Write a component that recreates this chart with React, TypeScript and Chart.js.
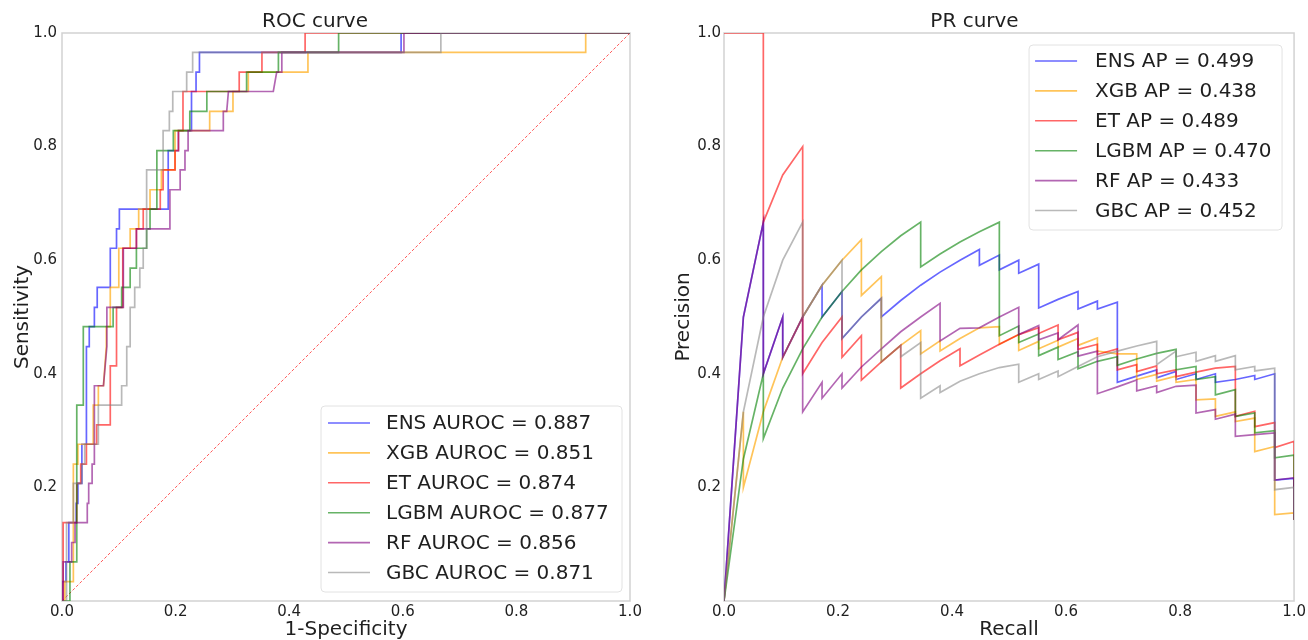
import React, { useEffect, useRef } from 'react';
import { Chart, registerables } from 'chart.js';

Chart.register(...registerables);

const FONT = 'DejaVu Sans';
const TEXT = '#1f1f1f';

const MODELS = ['ENS', 'XGB', 'ET', 'LGBM', 'RF', 'GBC'];
const AUROC = ['0.887', '0.851', '0.874', '0.877', '0.856', '0.871'];
const AP = ['0.499', '0.438', '0.489', '0.470', '0.433', '0.452'];
const COLORS = [
  'rgba(0,0,255,0.6)',
  'rgba(255,165,0,0.65)',
  'rgba(255,0,0,0.6)',
  'rgba(0,128,0,0.6)',
  'rgba(128,0,128,0.6)',
  'rgba(128,128,128,0.55)',
];
const TICK_STEP = 0.2;
const DIAGONAL: [number, number][] = [[0, 0], [1, 1]];

// ROC curves: [1-specificity, sensitivity]
const ENS_ROC: [number, number][] = [
  [0, 0], [0, 0.034], [0.007, 0.034], [0.007, 0.069], [0.012, 0.069], [0.012, 0.138], [0.025, 0.138],
  [0.025, 0.172], [0.028, 0.172], [0.028, 0.207], [0.035, 0.207], [0.035, 0.276], [0.043, 0.276],
  [0.043, 0.448], [0.048, 0.448], [0.048, 0.483], [0.057, 0.483], [0.057, 0.517], [0.062, 0.517],
  [0.062, 0.552], [0.085, 0.552], [0.085, 0.621], [0.096, 0.621], [0.096, 0.655], [0.101, 0.655],
  [0.101, 0.69], [0.187, 0.69], [0.187, 0.793], [0.205, 0.793], [0.205, 0.828], [0.228, 0.828],
  [0.228, 0.897], [0.236, 0.897], [0.236, 0.931], [0.242, 0.931], [0.242, 0.966], [0.597, 0.966],
  [0.597, 1], [1, 1],
];
const XGB_ROC: [number, number][] = [
  [0, 0], [0.005, 0], [0.005, 0.034], [0.02, 0.034], [0.02, 0.241], [0.028, 0.241], [0.028, 0.276],
  [0.055, 0.276], [0.055, 0.345], [0.064, 0.345], [0.064, 0.379], [0.073, 0.379], [0.078, 0.448],
  [0.078, 0.483], [0.085, 0.483], [0.085, 0.552], [0.1, 0.552], [0.1, 0.621], [0.12, 0.621],
  [0.12, 0.655], [0.135, 0.655], [0.135, 0.69], [0.155, 0.69], [0.155, 0.724], [0.175, 0.724],
  [0.175, 0.759], [0.199, 0.759], [0.199, 0.828], [0.26, 0.828], [0.26, 0.862], [0.301, 0.862],
  [0.301, 0.897], [0.328, 0.897], [0.328, 0.931], [0.433, 0.931], [0.433, 0.966], [0.922, 0.966],
  [0.922, 1], [1, 1],
];
const ET_ROC: [number, number][] = [
  [0, 0], [0.002, 0], [0.002, 0.138], [0.026, 0.138], [0.026, 0.207], [0.033, 0.207], [0.033, 0.241],
  [0.043, 0.241], [0.043, 0.276], [0.061, 0.276], [0.061, 0.31], [0.085, 0.31], [0.085, 0.414],
  [0.096, 0.414], [0.096, 0.517], [0.107, 0.517], [0.107, 0.621], [0.131, 0.621], [0.131, 0.655],
  [0.143, 0.655], [0.143, 0.69], [0.173, 0.69], [0.173, 0.724], [0.178, 0.724], [0.178, 0.759],
  [0.199, 0.759], [0.199, 0.793], [0.205, 0.793], [0.205, 0.828], [0.213, 0.828], [0.213, 0.897],
  [0.312, 0.897], [0.312, 0.931], [0.352, 0.931], [0.352, 0.966], [0.428, 0.966], [0.428, 1], [1, 1],
];
const LGBM_ROC: [number, number][] = [
  [0, 0], [0.014, 0], [0.014, 0.069], [0.026, 0.069], [0.026, 0.345], [0.0375, 0.345], [0.0375, 0.483],
  [0.09, 0.483], [0.09, 0.517], [0.105, 0.517], [0.105, 0.552], [0.12, 0.552], [0.12, 0.586],
  [0.131, 0.586], [0.131, 0.621], [0.149, 0.621], [0.149, 0.655], [0.155, 0.655], [0.155, 0.69],
  [0.167, 0.69], [0.167, 0.793], [0.196, 0.793], [0.196, 0.828], [0.225, 0.828], [0.225, 0.862],
  [0.255, 0.862], [0.255, 0.897], [0.325, 0.897], [0.325, 0.931], [0.381, 0.931], [0.381, 0.966],
  [0.487, 0.966], [0.487, 1], [1, 1],
];
const RF_ROC: [number, number][] = [
  [0, 0], [0.002, 0], [0.002, 0.069], [0.017, 0.069], [0.017, 0.103], [0.023, 0.103], [0.023, 0.138],
  [0.0445, 0.138], [0.0445, 0.172], [0.047, 0.172], [0.047, 0.207], [0.053, 0.207], [0.053, 0.241],
  [0.057, 0.241], [0.057, 0.379], [0.073, 0.379], [0.079, 0.448], [0.079, 0.517], [0.108, 0.517],
  [0.108, 0.621], [0.131, 0.621], [0.131, 0.655], [0.19, 0.655], [0.19, 0.724], [0.208, 0.724],
  [0.208, 0.759], [0.2165, 0.759], [0.2165, 0.793], [0.222, 0.793], [0.222, 0.828], [0.284, 0.828],
  [0.284, 0.862], [0.29, 0.862], [0.293, 0.897], [0.372, 0.897], [0.378, 0.931], [0.387, 0.931],
  [0.387, 0.966], [0.602, 0.966], [0.602, 1], [1, 1],
];
const GBC_ROC: [number, number][] = [
  [0, 0], [0.008, 0], [0.008, 0.138], [0.02, 0.138], [0.02, 0.207], [0.035, 0.207], [0.035, 0.241],
  [0.04, 0.241], [0.04, 0.276], [0.064, 0.276], [0.064, 0.345], [0.105, 0.345], [0.105, 0.379],
  [0.114, 0.379], [0.114, 0.448], [0.12, 0.448], [0.12, 0.517], [0.128, 0.517], [0.128, 0.552],
  [0.137, 0.552], [0.137, 0.586], [0.143, 0.586], [0.143, 0.621], [0.149, 0.621], [0.149, 0.759],
  [0.178, 0.759], [0.178, 0.828], [0.189, 0.828], [0.189, 0.862], [0.195, 0.862], [0.195, 0.897],
  [0.2195, 0.897], [0.2195, 0.931], [0.23, 0.931], [0.23, 0.966], [0.667, 0.966], [0.667, 1], [1, 1],
];

// PR curves: [recall, precision]
const ENS_PR: [number, number][] = [
  [0, 0], [0.034, 0.5], [0.069, 0.667], [0.069, 0.4], [0.103, 0.5], [0.103, 0.429], [0.138, 0.5],
  [0.172, 0.556], [0.172, 0.5], [0.207, 0.545], [0.207, 0.462], [0.241, 0.5], [0.276, 0.533],
  [0.276, 0.5], [0.31, 0.529], [0.345, 0.556], [0.379, 0.579], [0.414, 0.6], [0.448, 0.619],
  [0.448, 0.591], [0.483, 0.609], [0.483, 0.583], [0.517, 0.6], [0.517, 0.577], [0.552, 0.593],
  [0.552, 0.516], [0.586, 0.531], [0.621, 0.545], [0.621, 0.514], [0.655, 0.528], [0.655, 0.514],
  [0.69, 0.526], [0.69, 0.385], [0.724, 0.396], [0.759, 0.407], [0.759, 0.393], [0.793, 0.404],
  [0.793, 0.39], [0.828, 0.4], [0.828, 0.39], [0.862, 0.4], [0.862, 0.385], [0.897, 0.39],
  [0.931, 0.397], [0.931, 0.39], [0.966, 0.4], [0.966, 0.213], [1, 0.216], [1, 0.143],
];
const XGB_PR: [number, number][] = [
  [0, 0], [0.034, 0.333], [0.034, 0.2], [0.069, 0.333], [0.103, 0.429], [0.138, 0.5], [0.172, 0.556],
  [0.207, 0.6], [0.241, 0.636], [0.241, 0.538], [0.276, 0.571], [0.276, 0.421], [0.31, 0.45],
  [0.345, 0.476], [0.345, 0.435], [0.379, 0.458], [0.379, 0.44], [0.414, 0.462], [0.448, 0.481],
  [0.483, 0.483], [0.483, 0.452], [0.517, 0.469], [0.517, 0.441], [0.552, 0.457], [0.552, 0.444],
  [0.586, 0.459], [0.586, 0.447], [0.621, 0.462], [0.621, 0.45], [0.655, 0.463], [0.655, 0.44],
  [0.69, 0.435], [0.724, 0.435], [0.724, 0.39], [0.759, 0.399], [0.759, 0.387], [0.793, 0.396],
  [0.793, 0.385], [0.828, 0.39], [0.828, 0.354], [0.862, 0.356], [0.862, 0.325], [0.897, 0.333],
  [0.897, 0.316], [0.931, 0.322], [0.931, 0.263], [0.966, 0.272], [0.966, 0.152], [1, 0.155], [1, 0.143],
];
const ET_PR: [number, number][] = [
  [0, 1], [0.034, 1], [0.069, 1], [0.069, 0.667], [0.103, 0.75], [0.138, 0.8], [0.138, 0.4],
  [0.172, 0.455], [0.207, 0.5], [0.207, 0.429], [0.241, 0.467], [0.241, 0.389], [0.276, 0.421],
  [0.31, 0.45], [0.31, 0.375], [0.345, 0.4], [0.379, 0.423], [0.414, 0.444], [0.414, 0.414],
  [0.448, 0.433], [0.483, 0.452], [0.517, 0.469], [0.552, 0.481], [0.552, 0.471], [0.586, 0.486],
  [0.586, 0.46], [0.621, 0.473], [0.621, 0.443], [0.655, 0.452], [0.655, 0.434], [0.69, 0.444],
  [0.69, 0.407], [0.724, 0.416], [0.724, 0.404], [0.759, 0.414], [0.759, 0.4], [0.793, 0.407],
  [0.793, 0.395], [0.828, 0.403], [0.862, 0.41], [0.897, 0.413], [0.897, 0.325], [0.931, 0.334],
  [0.931, 0.307], [0.966, 0.314], [0.966, 0.27], [1, 0.281], [1, 0.143],
];
const LGBM_PR: [number, number][] = [
  [0, 0], [0.034, 0.25], [0.069, 0.4], [0.069, 0.286], [0.103, 0.375], [0.138, 0.444], [0.172, 0.5],
  [0.207, 0.545], [0.241, 0.583], [0.276, 0.615], [0.31, 0.643], [0.345, 0.667], [0.345, 0.588],
  [0.379, 0.611], [0.414, 0.632], [0.448, 0.65], [0.483, 0.667], [0.483, 0.467], [0.517, 0.484],
  [0.517, 0.455], [0.552, 0.47], [0.552, 0.432], [0.586, 0.447], [0.586, 0.425], [0.621, 0.439],
  [0.621, 0.409], [0.655, 0.422], [0.69, 0.43], [0.69, 0.415], [0.724, 0.426], [0.759, 0.436],
  [0.793, 0.443], [0.793, 0.407], [0.828, 0.413], [0.828, 0.39], [0.862, 0.395], [0.862, 0.363],
  [0.897, 0.372], [0.897, 0.325], [0.931, 0.331], [0.931, 0.296], [0.966, 0.3], [0.966, 0.252],
  [1, 0.257], [1, 0.143],
];
const RF_PR: [number, number][] = [
  [0, 0], [0.034, 0.5], [0.069, 0.667], [0.069, 0.4], [0.103, 0.5], [0.103, 0.429], [0.138, 0.5],
  [0.138, 0.333], [0.172, 0.385], [0.172, 0.357], [0.207, 0.4], [0.207, 0.375], [0.241, 0.412],
  [0.276, 0.444], [0.31, 0.474], [0.345, 0.5], [0.379, 0.524], [0.379, 0.458], [0.414, 0.48],
  [0.448, 0.481], [0.483, 0.5], [0.517, 0.517], [0.517, 0.469], [0.552, 0.485], [0.552, 0.46],
  [0.586, 0.472], [0.586, 0.46], [0.621, 0.486], [0.621, 0.431], [0.655, 0.44], [0.655, 0.365],
  [0.69, 0.377], [0.724, 0.389], [0.724, 0.37], [0.759, 0.379], [0.759, 0.367], [0.793, 0.378],
  [0.828, 0.38], [0.828, 0.331], [0.862, 0.337], [0.862, 0.32], [0.897, 0.329], [0.897, 0.29],
  [0.931, 0.293], [0.966, 0.296], [0.966, 0.213], [1, 0.217], [1, 0.143],
];
const GBC_PR: [number, number][] = [
  [0, 0], [0.034, 0.333], [0.069, 0.5], [0.103, 0.6], [0.138, 0.667], [0.138, 0.5], [0.172, 0.556],
  [0.207, 0.6], [0.207, 0.462], [0.241, 0.5], [0.276, 0.533], [0.276, 0.421], [0.31, 0.45],
  [0.31, 0.43], [0.345, 0.455], [0.345, 0.357], [0.379, 0.379], [0.379, 0.367], [0.414, 0.387],
  [0.448, 0.4], [0.483, 0.411], [0.517, 0.417], [0.517, 0.385], [0.552, 0.4], [0.552, 0.39],
  [0.586, 0.405], [0.586, 0.395], [0.621, 0.413], [0.655, 0.43], [0.69, 0.44], [0.724, 0.449],
  [0.759, 0.457], [0.759, 0.416], [0.793, 0.44], [0.793, 0.43], [0.828, 0.438], [0.828, 0.422],
  [0.862, 0.432], [0.862, 0.422], [0.897, 0.432], [0.897, 0.407], [0.931, 0.413], [0.931, 0.405],
  [0.966, 0.41], [0.966, 0.196], [1, 0.2], [1, 0.143],
];

const ROC_CURVES = [ENS_ROC, XGB_ROC, ET_ROC, LGBM_ROC, RF_ROC, GBC_ROC];
const PR_CURVES = [ENS_PR, XGB_PR, ET_PR, LGBM_PR, RF_PR, GBC_PR];

const framePlugin = {
  id: 'frame',
  beforeDatasetsDraw(chart: any) {
    const { ctx, chartArea: a } = chart;
    ctx.save();
    ctx.strokeStyle = '#d2d2d2';
    ctx.lineWidth = 1.5;
    ctx.strokeRect(a.left, a.top, a.right - a.left, a.bottom - a.top);
    ctx.restore();
  },
};

const boxLegendPlugin = {
  id: 'boxLegend',
  afterDraw(chart: any, _args: any, opts: any) {
    if (!opts || !opts.labels) return;
    const { ctx, chartArea: a } = chart;
    const x0 = a.right - opts.right - opts.width;
    const y0 = opts.anchor === 'top' ? a.top + opts.offsetY : a.bottom - opts.offsetY - opts.height;
    ctx.save();
    ctx.beginPath();
    const r = 4;
    const w = opts.width;
    const h = opts.height;
    ctx.moveTo(x0 + r, y0);
    ctx.lineTo(x0 + w - r, y0);
    ctx.quadraticCurveTo(x0 + w, y0, x0 + w, y0 + r);
    ctx.lineTo(x0 + w, y0 + h - r);
    ctx.quadraticCurveTo(x0 + w, y0 + h, x0 + w - r, y0 + h);
    ctx.lineTo(x0 + r, y0 + h);
    ctx.quadraticCurveTo(x0, y0 + h, x0, y0 + h - r);
    ctx.lineTo(x0, y0 + r);
    ctx.quadraticCurveTo(x0, y0, x0 + r, y0);
    ctx.closePath();
    ctx.fillStyle = 'rgba(255,255,255,0.85)';
    ctx.fill();
    ctx.strokeStyle = '#e2e2e2';
    ctx.lineWidth = 1;
    ctx.stroke();
    ctx.font = `20px "${FONT}"`;
    ctx.textBaseline = 'middle';
    ctx.textAlign = 'left';
    opts.labels.forEach((label: string, i: number) => {
      const cy = y0 + opts.firstRow + i * opts.rowGap;
      ctx.beginPath();
      ctx.strokeStyle = opts.colors[i];
      ctx.lineWidth = 1.6;
      ctx.moveTo(x0 + opts.handleX, cy);
      ctx.lineTo(x0 + opts.handleX + opts.handleLen, cy);
      ctx.stroke();
      ctx.fillStyle = TEXT;
      ctx.fillText(label, x0 + opts.textX, cy + 1);
    });
    ctx.restore();
  },
};

function buildConfig(kind: 'roc' | 'pr'): any {
  const curves = kind === 'roc' ? ROC_CURVES : PR_CURVES;
  const datasets: any[] = MODELS.map((m, i) => ({
    label: m,
    data: curves[i].map(([x, y]) => ({ x, y })),
    showLine: true,
    borderColor: COLORS[i],
    backgroundColor: COLORS[i],
    borderWidth: 1.7,
    pointRadius: 0,
    tension: 0,
    fill: false,
    order: MODELS.length - i,
  }));
  if (kind === 'roc') {
    datasets.push({
      label: 'chance',
      data: DIAGONAL.map(([x, y]) => ({ x, y })),
      showLine: true,
      borderColor: 'rgba(255,0,0,0.65)',
      borderWidth: 1,
      borderDash: [3, 2],
      pointRadius: 0,
      fill: false,
      order: 20,
    });
  }
  const legendLabels = MODELS.map((m, i) =>
    kind === 'roc' ? `${m} AUROC = ${AUROC[i]}` : `${m} AP = ${AP[i]}`
  );
  const tickFont = { family: FONT, size: 15 };
  const titleFont = { family: FONT, size: 20, lineHeight: 1 };
  return {
    type: 'scatter',
    data: { datasets },
    plugins: [framePlugin, boxLegendPlugin],
    options: {
      responsive: false,
      animation: false,
      events: [],
      layout: { padding: { left: 0, right: kind === 'roc' ? 24 : 13, top: 0, bottom: 0 } },
      plugins: {
        legend: { display: false },
        tooltip: { enabled: false },
        title: {
          display: true,
          text: kind === 'roc' ? 'ROC curve' : 'PR curve',
          color: TEXT,
          font: { family: FONT, size: 20, lineHeight: 1, weight: 'normal' },
          padding: { top: 12, bottom: 1 },
        },
        boxLegend:
          kind === 'roc'
            ? {
                labels: legendLabels, colors: COLORS, anchor: 'bottom', right: 8, offsetY: 9,
                width: 301, height: 186, firstRow: 17, rowGap: 29.9, handleX: 7, handleLen: 42, textX: 65,
              }
            : {
                labels: legendLabels, colors: COLORS, anchor: 'top', right: 12, offsetY: 12,
                width: 253, height: 185, firstRow: 16, rowGap: 29.9, handleX: 6, handleLen: 42, textX: 66,
              },
      },
      scales: {
        x: {
          type: 'linear',
          min: 0,
          max: 1,
          grid: { display: false, drawTicks: false },
          border: { display: false },
          ticks: {
            stepSize: TICK_STEP,
            color: TEXT,
            font: tickFont,
            padding: 2,
            maxRotation: 0,
            callback: (v: number) => Number(v).toFixed(1),
          },
          title: {
            display: true,
            text: kind === 'roc' ? '1-Specificity' : 'Recall',
            color: TEXT,
            font: titleFont,
            padding: { top: 0, bottom: 0 },
          },
          afterFit: (s: any) => { s.height = 39; },
        },
        y: {
          type: 'linear',
          min: 0,
          max: 1,
          grid: { display: false, drawTicks: false },
          border: { display: false },
          ticks: {
            stepSize: TICK_STEP,
            color: TEXT,
            font: tickFont,
            padding: kind === 'roc' ? 5 : 3,
            callback: (v: number) => (v === 0 ? '' : Number(v).toFixed(1)),
          },
          title: {
            display: true,
            text: kind === 'roc' ? 'Sensitivity' : 'Precision',
            color: TEXT,
            font: titleFont,
            padding: { top: kind === 'roc' ? 13 : 20, bottom: 0 },
          },
          afterFit: (s: any) => { s.width = kind === 'roc' ? 62 : 70; },
        },
      },
    },
  };
}

function Panel({ kind, left }: { kind: 'roc' | 'pr'; left: number }) {
  const ref = useRef<HTMLCanvasElement>(null);
  useEffect(() => {
    if (!ref.current) return;
    const chart = new Chart(ref.current, buildConfig(kind));
    return () => chart.destroy();
  }, [kind]);
  return (
    <canvas
      ref={ref}
      width={654}
      height={640}
      style={{ position: 'absolute', left, top: 0, width: 654, height: 640 }}
    />
  );
}

export default function App() {
  return (
    <div style={{ position: 'fixed', left: 0, top: 0, width: 1308, height: 640, background: '#fff', overflow: 'hidden' }}>
      <Panel kind="roc" left={0} />
      <Panel kind="pr" left={654} />
    </div>
  );
}
